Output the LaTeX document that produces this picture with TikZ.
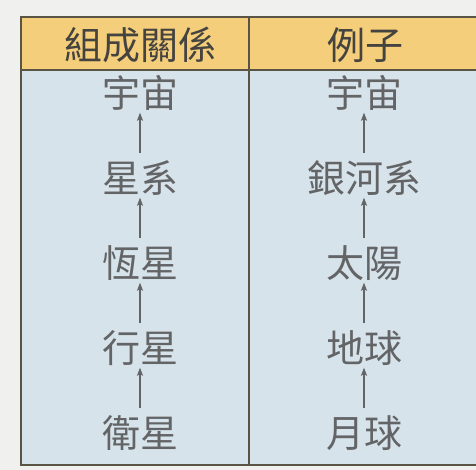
\documentclass[tikz,border=0pt]{standalone}
\usepackage{fontspec}
\newfontfamily\cjk{Noto Sans CJK TC}
\usetikzlibrary{arrows.meta}
\definecolor{bgc}{HTML}{F0F1EF}
\definecolor{headc}{HTML}{F4CE7A}
\definecolor{bodyc}{HTML}{D7E3EA}
\definecolor{linec}{HTML}{5A5445}
\definecolor{txtc}{HTML}{626466}
\definecolor{headtxt}{HTML}{45433F}
\begin{document}
\begin{tikzpicture}[x=1pt,y=-1pt,
  cell/.style={font=\cjk\fontsize{38}{38}\selectfont, text=txtc, inner sep=0pt, text height=32pt, text depth=3pt},
  headcell/.style={cell, text=headtxt},
  up/.style={-{Stealth[length=8pt,width=6pt,inset=1.5pt]}, draw=txtc, line width=1.1pt, shorten <=7pt, shorten >=2pt}]
\useasboundingbox (0,0) rectangle (476,470);
\fill[bgc] (0,0) rectangle (476,470);
\fill[headc] (21,17) rectangle (480,70);
\fill[bodyc] (21,70) rectangle (480,465);
\draw[linec, line width=1.5pt] (480,17) -- (21,17) -- (21,465) -- (480,465);
\draw[linec, line width=1.8pt] (21,70) -- (480,70);
\draw[linec, line width=1.2pt] (249,17) -- (249,465);
\node[headcell] (h1) at (140,45) {組成關係};
\node[headcell] (h2) at (365,45) {例子};
\node[cell] (a1) at (140,93) {宇宙};
\node[cell] (a2) at (140,178) {星系};
\node[cell] (a3) at (140,263) {恆星};
\node[cell] (a4) at (140,348) {行星};
\node[cell] (a5) at (140,433) {衛星};
\node[cell] (b1) at (364,93) {宇宙};
\node[cell] (b2) at (364,178) {銀河系};
\node[cell] (b3) at (364,263) {太陽};
\node[cell] (b4) at (364,348) {地球};
\node[cell] (b5) at (364,433) {月球};
\foreach \c in {a,b}{
  \draw[up] (\c2.north) -- (\c1.south);
  \draw[up] (\c3.north) -- (\c2.south);
  \draw[up] (\c4.north) -- (\c3.south);
  \draw[up] (\c5.north) -- (\c4.south);
}
\end{tikzpicture}
\end{document}
